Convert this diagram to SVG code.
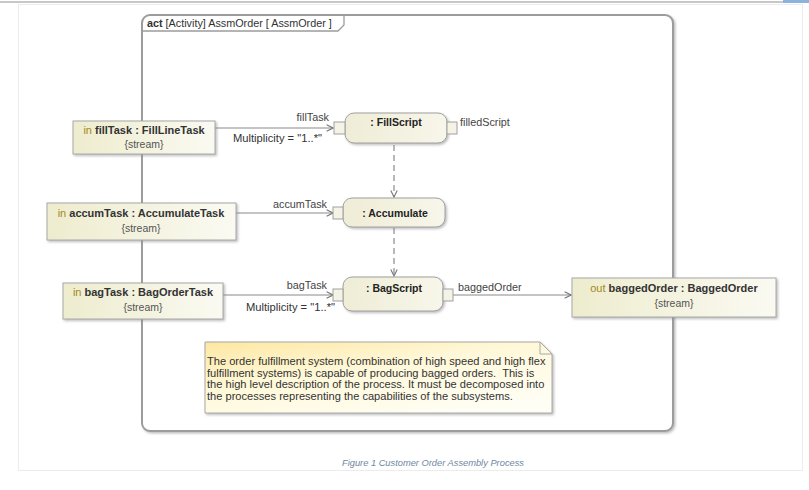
<svg xmlns="http://www.w3.org/2000/svg" width="809" height="490" viewBox="0 0 809 490">
  <style>
    text { font-family: "Liberation Sans", Arial, sans-serif; fill: #333; }
    .param { fill: url(#paramFill); stroke: #a8a8a8; stroke-width: 1; filter: url(#shadow); }
    .action { fill: url(#actFill); stroke: #a0a0a0; stroke-width: 1; filter: url(#shadow); }
    .pin { fill: #f4f3e6; stroke: #a0a0a0; stroke-width: 1; }
    .flow { stroke: #8a8a8a; stroke-width: 1.2; fill: none; }
    .ctrl { stroke: #8a8a8a; stroke-width: 1.2; fill: none; stroke-dasharray: 6 4; }
    .pname { font-size: 11px; font-weight: bold; text-anchor: middle; }
    .kw { font-weight: normal; fill: #a08a20; }
    .stream { font-size: 10.5px; text-anchor: middle; fill: #555; }
    .lbl { font-size: 10.8px; fill: #444; }
    .mult { font-size: 11.2px; fill: #333; }
    .aname { font-size: 10.5px; font-weight: bold; text-anchor: middle; fill: #222; }
    .note { font-size: 11.1px; fill: #333; }
  </style>
  <defs>
    <linearGradient id="paramFill" x1="0" y1="0" x2="1" y2="0">
      <stop offset="0" stop-color="#eeecce"/>
      <stop offset="1" stop-color="#fafaf2"/>
    </linearGradient>
    <linearGradient id="actFill" x1="0" y1="0" x2="1" y2="0">
      <stop offset="0" stop-color="#efedd6"/>
      <stop offset="1" stop-color="#f7f6ea"/>
    </linearGradient>
    <linearGradient id="noteFill" x1="0" y1="0" x2="0.7" y2="1">
      <stop offset="0" stop-color="#fde7a2"/>
      <stop offset="0.45" stop-color="#fff8d8"/>
      <stop offset="1" stop-color="#fffef4"/>
    </linearGradient>
    <filter id="shadow" x="-10%" y="-20%" width="130%" height="150%">
      <feDropShadow dx="1.5" dy="1.5" stdDeviation="1" flood-color="#888" flood-opacity="0.55"/>
    </filter>
    <marker id="open" viewBox="0 0 10 10" refX="9" refY="5" markerWidth="8" markerHeight="8" orient="auto" markerUnits="userSpaceOnUse">
      <path d="M1,1 L9,5 L1,9" fill="none" stroke="#777" stroke-width="1.4"/>
    </marker>
  </defs>

  <!-- page background and border -->
  <rect x="0" y="0" width="809" height="490" fill="#ffffff"/>
  <line x1="0" y1="2" x2="809" y2="2" stroke="#c8c8c8" stroke-width="2"/>
  <rect x="783" y="0" width="26" height="3" fill="#8db3dc"/>
  <rect x="18.5" y="4.5" width="784" height="466" fill="none" stroke="#ececec" stroke-width="1"/>

  <!-- activity frame -->
  <g id="frame">
    <rect x="142" y="15" width="531" height="416" rx="8" ry="8" fill="#ffffff" stroke="#9c9c9c" stroke-width="2" filter="url(#shadow)"/>
    <path d="M142,31 L338,31 L344,25 L344,15" fill="none" stroke="#9c9c9c" stroke-width="1.3"/>
    <text x="147" y="27" font-size="10.8" fill="#333"><tspan font-weight="bold">act</tspan> [Activity] AssmOrder [ AssmOrder ]</text>
  </g>

  <!-- connectors -->
  <g id="connectors">
    <line class="flow" x1="215" y1="128" x2="333" y2="128" marker-end="url(#open)"/>
    <line class="flow" x1="236" y1="213" x2="333" y2="213" marker-end="url(#open)"/>
    <line class="flow" x1="223" y1="295" x2="333" y2="295" marker-end="url(#open)"/>
    <line class="flow" x1="453" y1="295" x2="571" y2="295" marker-end="url(#open)"/>
    <line class="ctrl" x1="394" y1="145" x2="394" y2="197" marker-end="url(#open)"/>
    <line class="ctrl" x1="394" y1="228" x2="394" y2="276" marker-end="url(#open)"/>
    <text class="lbl" x="329" y="121" text-anchor="end">fillTask</text>
    <text class="mult" x="322" y="142" text-anchor="end">Multiplicity = "1..*"</text>
    <text class="lbl" x="460" y="126">filledScript</text>
    <text class="lbl" x="327" y="208" text-anchor="end">accumTask</text>
    <text class="lbl" x="327" y="289" text-anchor="end">bagTask</text>
    <text class="mult" x="335" y="311" text-anchor="end">Multiplicity = "1..*"</text>
    <text class="lbl" x="458" y="291">baggedOrder</text>
  </g>

  <!-- activity parameter nodes -->
  <g id="fillTask">
    <rect class="param" x="73" y="121" width="142" height="33"/>
    <text class="pname" x="144" y="134"><tspan class="kw">in</tspan> fillTask : FillLineTask</text>
    <text class="stream" x="144" y="148">{stream}</text>
  </g>
  <g id="accumTask">
    <rect class="param" x="47" y="203" width="189" height="37"/>
    <text class="pname" x="141" y="217"><tspan class="kw">in</tspan> accumTask : AccumulateTask</text>
    <text class="stream" x="141" y="232">{stream}</text>
  </g>
  <g id="bagTask">
    <rect class="param" x="63" y="283" width="160" height="36"/>
    <text class="pname" x="143" y="296"><tspan class="kw">in</tspan> bagTask : BagOrderTask</text>
    <text class="stream" x="143" y="311">{stream}</text>
  </g>
  <g id="baggedOrder">
    <rect class="param" x="572" y="278" width="204" height="39"/>
    <text class="pname" x="674" y="292"><tspan class="kw">out</tspan> baggedOrder : BaggedOrder</text>
    <text class="stream" x="674" y="307">{stream}</text>
  </g>

  <!-- actions -->
  <g id="fillScript">
    <rect class="action" x="345" y="113" width="102" height="30" rx="9" ry="9"/>
    <rect class="pin" x="334" y="122" width="11" height="12"/>
    <rect class="pin" x="447" y="122" width="10" height="12"/>
    <text class="aname" x="396" y="126">: FillScript</text>
  </g>
  <g id="accumulate">
    <rect class="action" x="343" y="198" width="102" height="29" rx="9" ry="9"/>
    <rect class="pin" x="333" y="207" width="10" height="12"/>
    <text class="aname" x="395" y="217" font-size="11.8">: Accumulate</text>
  </g>
  <g id="bagScript">
    <rect class="action" x="343" y="277" width="100" height="34" rx="9" ry="9"/>
    <rect class="pin" x="333" y="289" width="10" height="12"/>
    <rect class="pin" x="443" y="289" width="10" height="12"/>
    <text class="aname" x="394" y="292">: BagScript</text>
  </g>

  <!-- comment note -->
  <g id="note">
    <path d="M205,342 L540,342 L552,354 L552,413 L205,413 Z" fill="url(#noteFill)" stroke="#a8a8a8" stroke-width="1" filter="url(#shadow)"/>
    <path d="M540,342 L540,354 L552,354" fill="none" stroke="#a8a8a8" stroke-width="1"/>
    <text class="note" x="207" y="365">The order fulfillment system (combination of high speed and high flex</text>
    <text class="note" x="207" y="376.5" xml:space="preserve">fulfillment systems) is capable of producing bagged orders.  This is</text>
    <text class="note" x="207" y="388">the high level description of the process. It must be decomposed into</text>
    <text class="note" x="207" y="399.5">the processes representing the capabilities of the subsystems.</text>
  </g>

  <!-- caption -->
  <text x="433" y="466" font-size="9.3" font-style="italic" text-anchor="middle" style="fill:#6f87a3">Figure 1 Customer Order Assembly Process</text>
</svg>
